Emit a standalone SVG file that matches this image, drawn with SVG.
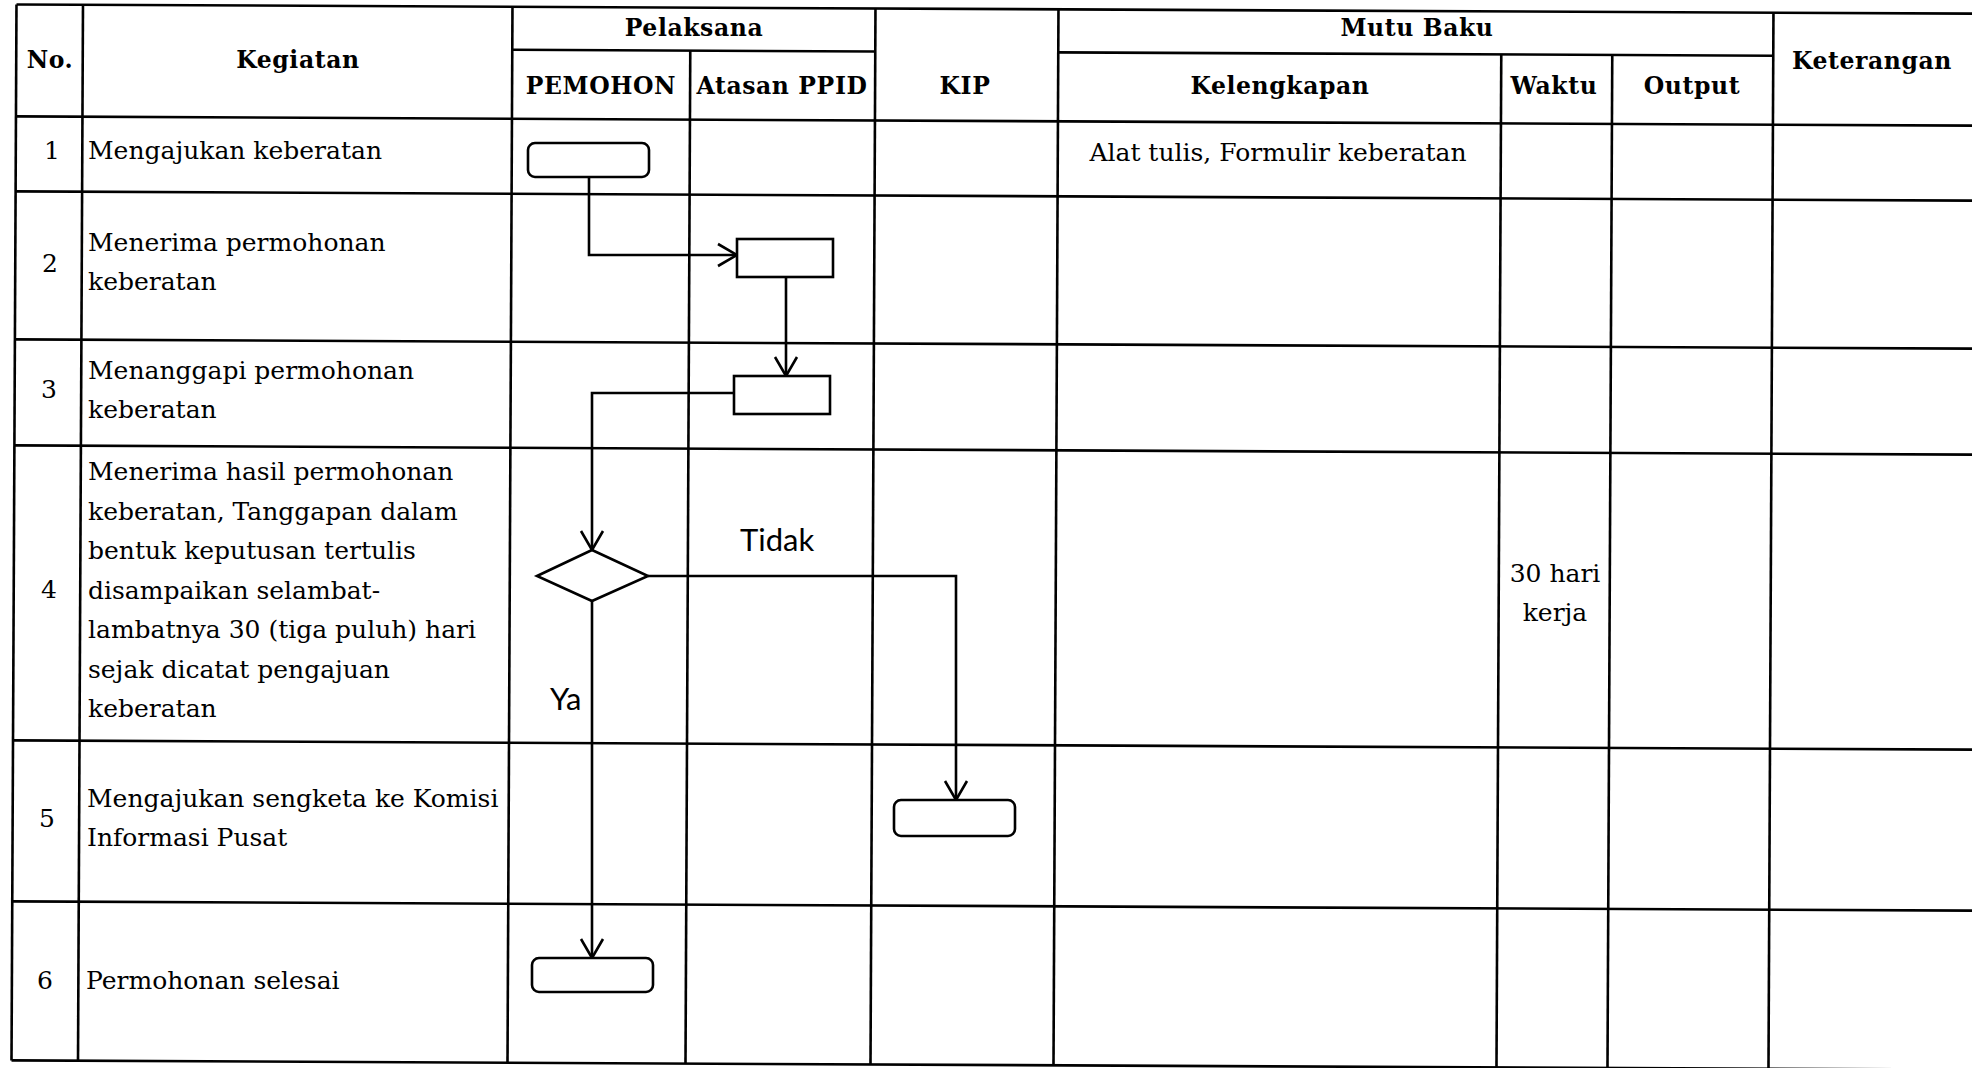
<svg xmlns="http://www.w3.org/2000/svg" width="1972" height="1068" viewBox="0 0 1972 1068">
<style>
.g{stroke:#000;stroke-width:2.6;fill:none}
.s{stroke:#000;stroke-width:2.6;fill:#fff}
.c{stroke:#000;stroke-width:2.6;fill:none}
.h{font-family:"DejaVu Serif","Liberation Serif",serif;font-weight:bold;font-size:23.5px;letter-spacing:0.6px;fill:#000;text-anchor:middle}
.t{font-family:"DejaVu Serif","Liberation Serif",serif;font-size:25px;fill:#000}
.m{text-anchor:middle}
.l{font-family:Lato,"Open Sans",sans-serif;font-size:31px;fill:#000}
</style>
<defs>
<marker id="arr" markerUnits="userSpaceOnUse" viewBox="-22 -13 24 26" markerWidth="24" markerHeight="26" refX="0" refY="0" orient="auto">
<path d="M-19,-11 L0,0 L-19,11" fill="none" stroke="#000" stroke-width="2.6"/>
</marker>
</defs>
<rect width="1972" height="1068" fill="#fff"/>
<g id="grid" class="g" transform="rotate(0.27 986 534)">
<line x1="14" y1="9" x2="1995" y2="9"/>
<line x1="510" y1="52" x2="873" y2="52"/>
<line x1="1056" y1="52" x2="1771" y2="52"/>
<line x1="14" y1="121" x2="1995" y2="121"/>
<line x1="14" y1="196" x2="1995" y2="196"/>
<line x1="14" y1="344" x2="1995" y2="344"/>
<line x1="14" y1="450" x2="1995" y2="450"/>
<line x1="14" y1="745" x2="1995" y2="745"/>
<line x1="14" y1="906" x2="1995" y2="906"/>
<line x1="14" y1="1065" x2="1995" y2="1065"/>
<line x1="14" y1="9" x2="14" y2="1065"/>
<line x1="80.5" y1="9" x2="80.5" y2="1065"/>
<line x1="510" y1="9" x2="510" y2="1065"/>
<line x1="688" y1="52" x2="688" y2="1065"/>
<line x1="873" y1="9" x2="873" y2="1065"/>
<line x1="1056" y1="9" x2="1056" y2="1065"/>
<line x1="1499" y1="52" x2="1499" y2="1065"/>
<line x1="1610" y1="52" x2="1610" y2="1065"/>
<line x1="1771" y1="9" x2="1771" y2="1065"/>
</g>
<g id="header">
<text class="h" x="50" y="68">No.</text>
<text class="h" x="298" y="68">Kegiatan</text>
<text class="h" x="694" y="36">Pelaksana</text>
<text class="h" x="601" y="94">PEMOHON</text>
<text class="h" x="782" y="94">Atasan PPID</text>
<text class="h" x="965" y="94">KIP</text>
<text class="h" x="1417" y="36">Mutu Baku</text>
<text class="h" x="1280" y="94">Kelengkapan</text>
<text class="h" x="1554" y="94">Waktu</text>
<text class="h" x="1692" y="94">Output</text>
<text class="h" x="1872" y="69">Keterangan</text>
</g>
<g id="rows">
<text class="t m" x="52" y="159">1</text>
<text class="t" x="88" y="159">Mengajukan keberatan</text>
<text class="t m" x="1278" y="161">Alat tulis, Formulir keberatan</text>
<text class="t m" x="50" y="272">2</text>
<text class="t" x="88" y="251">Menerima permohonan</text>
<text class="t" x="88" y="290">keberatan</text>
<text class="t m" x="49" y="398">3</text>
<text class="t" x="88" y="379">Menanggapi permohonan</text>
<text class="t" x="88" y="418">keberatan</text>
<text class="t m" x="49" y="598">4</text>
<text class="t" x="88" y="480">Menerima hasil permohonan</text>
<text class="t" x="88" y="519.5">keberatan, Tanggapan dalam</text>
<text class="t" x="88" y="559">bentuk keputusan tertulis</text>
<text class="t" x="88" y="598.5">disampaikan selambat-</text>
<text class="t" x="88" y="638">lambatnya 30 (tiga puluh) hari</text>
<text class="t" x="88" y="677.5">sejak dicatat pengajuan</text>
<text class="t" x="88" y="717">keberatan</text>
<text class="t m" x="1555" y="582">30 hari</text>
<text class="t m" x="1555" y="621">kerja</text>
<text class="t m" x="47" y="827">5</text>
<text class="t" x="87" y="807">Mengajukan sengketa ke Komisi</text>
<text class="t" x="87" y="846">Informasi Pusat</text>
<text class="t m" x="45" y="989">6</text>
<text class="t" x="86" y="989">Permohonan selesai</text>
</g>
<g id="connectors" class="c">
<polyline points="589,177 589,255 737,255" marker-end="url(#arr)"/>
<polyline points="786,277 786,376" marker-end="url(#arr)"/>
<polyline points="734,393 592,393 592,550" marker-end="url(#arr)"/>
<polyline points="648,576 956,576 956,800" marker-end="url(#arr)"/>
<polyline points="592,601 592,958" marker-end="url(#arr)"/>
</g>
<g id="n1"><rect class="s" x="528" y="143" width="121" height="34" rx="7"/></g>
<g id="n2"><rect class="s" x="737" y="239" width="96" height="38"/></g>
<g id="n3"><rect class="s" x="734" y="376" width="96" height="38"/></g>
<g id="n4"><polygon class="s" points="537,576 592,550 648,576 592,601"/></g>
<g id="n5"><rect class="s" x="894" y="800" width="121" height="36" rx="7"/></g>
<g id="n6"><rect class="s" x="532" y="958" width="121" height="34" rx="7"/></g>
<g id="labels">
<text class="l" x="740" y="551">Tidak</text>
<text class="l" x="550" y="710">Ya</text>
</g>
</svg>
